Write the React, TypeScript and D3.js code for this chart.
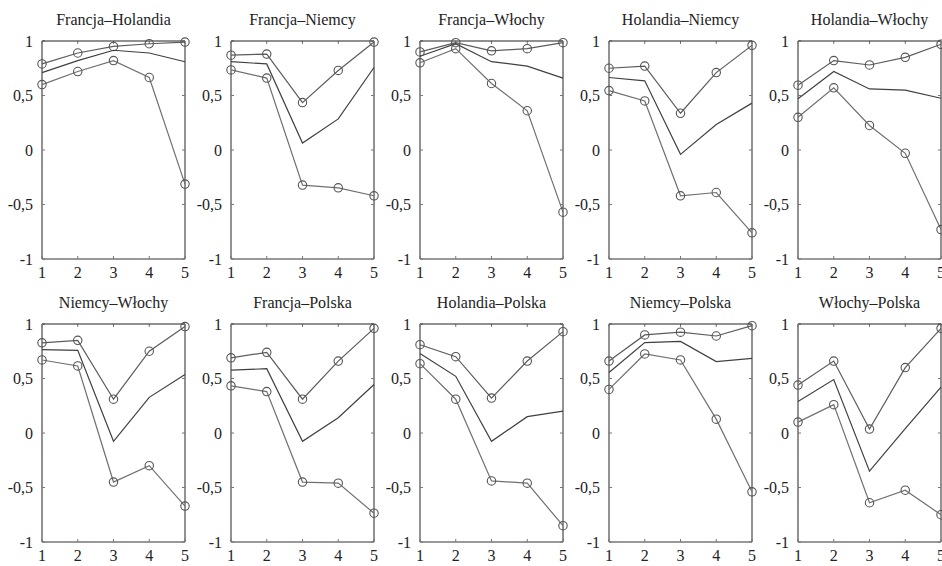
import React from "react";
import * as d3 from "d3";

const titles = [
  "Francja–Holandia", "Francja–Niemcy", "Francja–Włochy", "Holandia–Niemcy", "Holandia–Włochy",
  "Niemcy–Włochy", "Francja–Polska", "Holandia–Polska", "Niemcy–Polska", "Włochy–Polska",
];

const xValues = [1, 2, 3, 4, 5];
const yTicks = [-1, -0.5, 0, 0.5, 1];
const yTickLabels = ["-1", "-0,5", "0", "0,5", "1"];

// upper bound (with markers)
const upper = [
  [0.79, 0.89, 0.95, 0.975, 0.99],
  [0.87, 0.88, 0.435, 0.73, 0.99],
  [0.9, 0.985, 0.91, 0.93, 0.985],
  [0.75, 0.77, 0.337, 0.71, 0.96],
  [0.595, 0.82, 0.78, 0.85, 0.97],
  [0.827, 0.85, 0.31, 0.75, 0.976],
  [0.69, 0.74, 0.31, 0.66, 0.96],
  [0.81, 0.7, 0.32, 0.66, 0.93],
  [0.66, 0.9, 0.925, 0.89, 0.985],
  [0.44, 0.66, 0.036, 0.6, 0.96],
];

// point estimate (no markers)
const middle = [
  [0.71, 0.82, 0.915, 0.89, 0.81],
  [0.81, 0.79, 0.064, 0.285, 0.757],
  [0.86, 0.975, 0.81, 0.77, 0.66],
  [0.665, 0.635, -0.04, 0.234, 0.43],
  [0.47, 0.72, 0.56, 0.55, 0.475],
  [0.764, 0.758, -0.076, 0.327, 0.536],
  [0.576, 0.59, -0.076, 0.14, 0.445],
  [0.73, 0.52, -0.076, 0.15, 0.2],
  [0.555, 0.83, 0.84, 0.655, 0.685],
  [0.29, 0.49, -0.35, 0.04, 0.42],
];

// lower bound (with markers)
const lower = [
  [0.6, 0.72, 0.82, 0.665, -0.313],
  [0.735, 0.66, -0.322, -0.347, -0.42],
  [0.8, 0.93, 0.61, 0.36, -0.57],
  [0.545, 0.45, -0.42, -0.39, -0.76],
  [0.3, 0.57, 0.225, -0.03, -0.73],
  [0.67, 0.615, -0.45, -0.3, -0.67],
  [0.433, 0.38, -0.45, -0.46, -0.736],
  [0.636, 0.31, -0.44, -0.46, -0.85],
  [0.4, 0.725, 0.67, 0.127, -0.54],
  [0.1, 0.26, -0.64, -0.525, -0.75],
];

const W = 942;
const H = 566;
const colLefts = [42, 231, 420, 609, 798];
const rowTops = [41, 324];
const pw = 143;
const ph = 218;
const FONT = "'Liberation Serif', 'Times New Roman', Times, 'DejaVu Serif', serif";
const textStyle = { fontFamily: FONT, fontWeight: 400 as const };

function Panel({ idx }: { idx: number }) {
  const col = idx % 5;
  const row = Math.floor(idx / 5);
  const x0 = colLefts[col];
  const y0 = rowTops[row];
  const x = d3.scaleLinear().domain([1, 5]).range([0, pw]);
  const y = d3.scaleLinear().domain([-1, 1]).range([ph, 0]);
  const line = d3
    .line<number>()
    .x((_, i) => x(xValues[i]))
    .y((d) => y(d));
  const series = [
    { data: upper[idx], markers: true, color: "#5c5c5c" },
    { data: middle[idx], markers: false, color: "#404040" },
    { data: lower[idx], markers: true, color: "#707070" },
  ];
  const tl = 3;
  return (
    <g transform={`translate(${x0},${y0})`}>
      <text
        x={pw / 2}
        y={-16}
        textAnchor="middle"
        style={textStyle}
        fontSize={16}
        fill="#222"
      >
        {titles[idx]}
      </text>
      {yTicks.map((t, i) => (
        <g key={"y" + i}>
          <line x1={0} x2={tl} y1={y(t)} y2={y(t)} stroke="#777" strokeWidth={1} />
          <line x1={pw - tl} x2={pw} y1={y(t)} y2={y(t)} stroke="#777" strokeWidth={1} />
          <text
            x={-9}
            y={y(t)}
            dy="0.35em"
            textAnchor="end"
            style={textStyle}
            fontSize={16}
            fill="#222"
          >
            {yTickLabels[i]}
          </text>
        </g>
      ))}
      {xValues.map((t) => (
        <g key={"x" + t}>
          <line x1={x(t)} x2={x(t)} y1={ph} y2={ph - tl} stroke="#777" strokeWidth={1} />
          <line x1={x(t)} x2={x(t)} y1={0} y2={tl} stroke="#777" strokeWidth={1} />
          <text
            x={x(t)}
            y={ph + 19}
            textAnchor="middle"
            style={textStyle}
            fontSize={16}
            fill="#222"
          >
            {t}
          </text>
        </g>
      ))}
      <line x1={0} x2={pw} y1={0} y2={0} stroke="#222" strokeWidth={1.1} />
      <line x1={0} x2={0} y1={0} y2={ph} stroke="#777" strokeWidth={1.6} />
      <line x1={pw} x2={pw} y1={0} y2={ph} stroke="#777" strokeWidth={1.6} />
      <line x1={0} x2={pw} y1={ph} y2={ph} stroke="#777" strokeWidth={1.6} />
      {series.map((s, si) => (
        <g key={"s" + si}>
          <path d={line(s.data) || ""} fill="none" stroke={s.color} strokeWidth={1.2} />
          {s.markers &&
            s.data.map((v, i) => (
              <circle
                key={i}
                cx={x(xValues[i])}
                cy={y(v)}
                r={4.2}
                fill="none"
                stroke="#555"
                strokeWidth={1.1}
              />
            ))}
        </g>
      ))}
    </g>
  );
}

export default function App() {
  return (
    <svg
      width={W}
      height={H}
      style={{ position: "absolute", left: 0, top: 0, background: "#fff" }}
    >
      <rect x={0} y={0} width={W} height={H} fill="#fff" />
      {titles.map((_, i) => (
        <Panel key={i} idx={i} />
      ))}
    </svg>
  );
}
